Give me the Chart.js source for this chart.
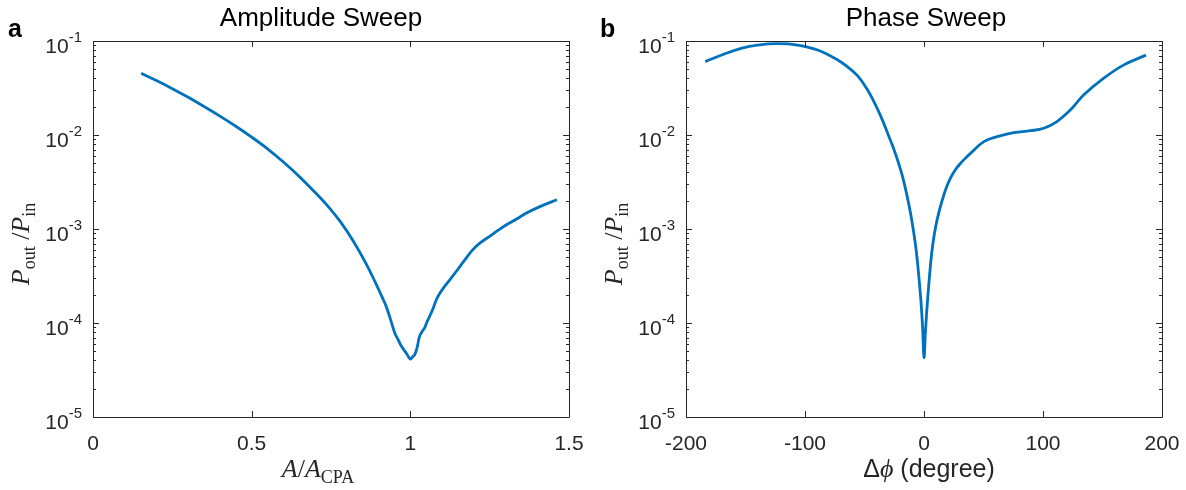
<!DOCTYPE html>
<html>
<head>
<meta charset="utf-8">
<script src="https://cdn.jsdelivr.net/npm/chart.js@4.4.0/dist/chart.umd.min.js"></script>
<style>
  html, body { margin: 0; padding: 0; background: #fff; }
  #wrap { position: relative; width: 1186px; height: 490px; }
  #wrap canvas { position: absolute; top: 0; }
</style>
</head>
<body>
<div id="wrap">
  <canvas id="chartA" width="593" height="490" style="left:0"></canvas>
  <canvas id="chartB" width="593" height="490" style="left:593px"></canvas>
</div>
<script>
// ---- data ----
const ampX = [0.152, 0.2, 0.25, 0.3, 0.35, 0.4, 0.45, 0.5, 0.55, 0.6, 0.65, 0.7,
  0.744, 0.78, 0.82, 0.86, 0.89, 0.91, 0.924, 0.938, 0.951, 0.962, 0.972, 0.987, 1.0,
  1.008, 1.014, 1.022, 1.029, 1.037, 1.045, 1.052, 1.061, 1.07, 1.082, 1.092, 1.108, 1.125, 1.145,
  1.17, 1.197, 1.222, 1.25, 1.275, 1.303, 1.335, 1.366, 1.41, 1.462];
const ampY = [0.0453, 0.0379, 0.0311, 0.0252, 0.0201, 0.0159, 0.0124, 0.0095, 0.00713, 0.00516, 0.00362, 0.00245,
  0.00169, 0.00119, 7.47e-4, 4.31e-4, 2.69e-4, 1.92e-4, 1.5e-4, 1.08e-4, 7.83e-5, 6.6e-5, 5.65e-5, 4.8e-5, 4.14e-5,
  4.4e-5, 4.6e-5, 5.6e-5, 7.2e-5, 8.1e-5, 8.85e-5, 1.02e-4, 1.18e-4, 1.38e-4, 1.77e-4, 2.05e-4, 2.45e-4, 2.9e-4, 3.55e-4,
  4.6e-4, 6.03e-4, 7.2e-4, 8.35e-4, 9.6e-4, 1.11e-3, 1.28e-3, 1.48e-3, 1.74e-3, 2.05e-3];

const phaseX = [-183.8, -167.8, -153.8, -139.8, -123.0, -106.2, -89.4, -72.5, -64, -55.7, -48, -42, -36, -30, -25.1, -20, -16.8,
  -12.5, -9.8, -7.5, -5.6, -2.8, -1.2, 0, 1.2, 2.8, 5.6, 7.5, 9.8, 12.5, 15.4, 18.5, 22.3, 26.5, 30.7, 35, 39.1, 50.3, 61.5,
  75.4, 89.4, 100.6, 111.7, 122.9, 134.1, 150.8, 167.6, 186.6];
const phaseY = [0.0603, 0.0728, 0.0836, 0.0906, 0.0937, 0.0906, 0.0802, 0.0628, 0.0528, 0.0425, 0.031, 0.0225, 0.0155, 0.01, 0.00693, 0.00442, 0.00313,
  0.00177, 0.00114, 7.31e-4, 4.61e-4, 1.86e-4, 9.1e-5, 4.3e-5, 8.0e-5, 1.63e-4, 4.33e-4, 7.0e-4, 1.06e-3, 1.5e-3, 2.04e-3, 2.7e-3, 3.5e-3,
  4.3e-3, 5.0e-3, 5.7e-3, 6.38e-3, 8.5e-3, 9.6e-3, 0.0106, 0.0111, 0.0118, 0.0139, 0.0184, 0.0266, 0.040, 0.0554, 0.0708];

const ampTicks = [0, 0.5, 1, 1.5];
const phaseTicks = [-200, -100, 0, 100, 200];
const decades = [-1, -2, -3, -4, -5];

// ---- style ----
const LINE_COLOR = '#0072BD';
const AXIS_COLOR = '#262626';
const SANS = '"Liberation Sans", Arial, sans-serif';
const SERIF = '"Liberation Serif", "Times New Roman", serif';
const TICK_FONT = '21px ' + SANS;
const EXP_FONT = '15px ' + SANS;

function drawRich(ctx, parts, x, y) {
  let w = 0;
  parts.forEach(p => { ctx.font = p[1]; w += ctx.measureText(p[0]).width; });
  let cx = x - w / 2;
  parts.forEach(p => {
    ctx.font = p[1];
    ctx.fillText(p[0], cx, y + (p[2] || 0));
    cx += ctx.measureText(p[0]).width;
  });
}

// MATLAB-like box, inward ticks, labels
const matlabAxes = {
  id: 'matlabAxes',
  afterDraw(chart, args, o) {
    const ctx = chart.ctx;
    const { left, right, top, bottom } = chart.chartArea;
    const xs = chart.scales.x, ys = chart.scales.y;
    ctx.save();
    ctx.strokeStyle = AXIS_COLOR;
    ctx.lineWidth = 1;
    ctx.beginPath();
    ctx.rect(left + 0.5, top + 0.5, right - left, bottom - top);
    // x ticks, top and bottom
    o.xTicks.forEach(v => {
      const px = Math.round(xs.getPixelForValue(v)) + 0.5;
      ctx.moveTo(px, bottom); ctx.lineTo(px, bottom - 6);
      ctx.moveTo(px, top); ctx.lineTo(px, top + 6);
    });
    // y ticks, major and minor, both sides
    decades.forEach(e => {
      for (let m = 1; m <= 9; m++) {
        const v = m * Math.pow(10, e - 1);
        if (v < ys.min * 0.999 || v > ys.max * 1.001) continue;
        const py = Math.round(ys.getPixelForValue(v)) + 0.5;
        const len = m === 1 ? 6 : 3;
        ctx.moveTo(left, py); ctx.lineTo(left + len, py);
        ctx.moveTo(right, py); ctx.lineTo(right - len, py);
      }
    });
    ctx.moveTo(left, top + 0.5); ctx.lineTo(left + 6, top + 0.5);
    ctx.moveTo(right, top + 0.5); ctx.lineTo(right - 6, top + 0.5);
    ctx.stroke();

    ctx.fillStyle = AXIS_COLOR;
    ctx.textBaseline = 'alphabetic';
    // x tick labels
    ctx.font = TICK_FONT;
    ctx.textAlign = 'center';
    o.xTicks.forEach(v => ctx.fillText(String(v), xs.getPixelForValue(v), bottom + 33));
    // y tick labels 10^e
    ctx.textAlign = 'left';
    decades.forEach(e => {
      const py = ys.getPixelForValue(Math.pow(10, e));
      ctx.font = EXP_FONT;
      const ex = String(e);
      const we = ctx.measureText(ex).width;
      ctx.font = TICK_FONT;
      const wb = ctx.measureText('10').width;
      const x0 = left - 11 - we - wb;
      ctx.fillText('10', x0, py + 12);
      ctx.font = EXP_FONT;
      ctx.fillText(ex, x0 + wb, py + 1);
    });

    // title
    ctx.fillStyle = '#000';
    ctx.textAlign = 'center';
    ctx.font = '26px ' + SANS;
    ctx.fillText(o.title, o.titleX, 26);
    // panel letter
    ctx.textAlign = 'left';
    ctx.font = 'bold 25px ' + SANS;
    ctx.fillText(o.letter, o.letterX, 37);

    // y label
    ctx.fillStyle = AXIS_COLOR;
    ctx.textAlign = 'left';
    ctx.save();
    ctx.translate(29, 244);
    ctx.rotate(-Math.PI / 2);
    drawRich(ctx, [
      ['P', 'italic 26px ' + SERIF],
      ['out', '18px ' + SERIF, 6],
      [' /', '26px ' + SERIF],
      ['P', 'italic 26px ' + SERIF],
      ['in', '18px ' + SERIF, 6]
    ], 0, 0);
    ctx.restore();

    // x label
    drawRich(ctx, o.xLabel, o.xLabelX, 477);
    ctx.restore();
  }
};

function makeChart(id, xs, ys, xMin, xMax, opts) {
  return new Chart(document.getElementById(id), {
    type: 'line',
    data: {
      datasets: [{
        data: xs.map((x, i) => ({ x, y: ys[i] })),
        borderColor: LINE_COLOR,
        borderWidth: 2.8,
        pointRadius: 0,
        tension: 0.4,
        fill: false
      }]
    },
    options: {
      responsive: false,
      animation: false,
      layout: { padding: { left: 93, right: 24, top: 41, bottom: 73 } },
      scales: {
        x: { type: 'linear', min: xMin, max: xMax, display: false },
        y: { type: 'logarithmic', min: 1e-5, max: 1e-1, display: false }
      },
      plugins: {
        legend: { display: false },
        tooltip: { enabled: false },
        matlabAxes: opts
      }
    },
    plugins: [matlabAxes]
  });
}

makeChart('chartA', ampX, ampY, 0, 1.5, {
  title: 'Amplitude Sweep', titleX: 321, letter: 'a', letterX: 8, xTicks: ampTicks, xLabelX: 318,
  xLabel: [
    ['A', 'italic 26px ' + SERIF],
    ['/', '26px ' + SERIF],
    ['A', 'italic 26px ' + SERIF],
    ['CPA', '18px ' + SERIF, 6]
  ]
});
makeChart('chartB', phaseX, phaseY, -200, 200, {
  title: 'Phase Sweep', titleX: 333, letter: 'b', letterX: 7, xTicks: phaseTicks, xLabelX: 336,
  xLabel: [
    ['\u0394', '25px ' + SANS],
    ['\u03D5', 'italic 26px ' + SERIF],
    [' (degree)', '25px ' + SANS]
  ]
});
</script>
</body>
</html>
